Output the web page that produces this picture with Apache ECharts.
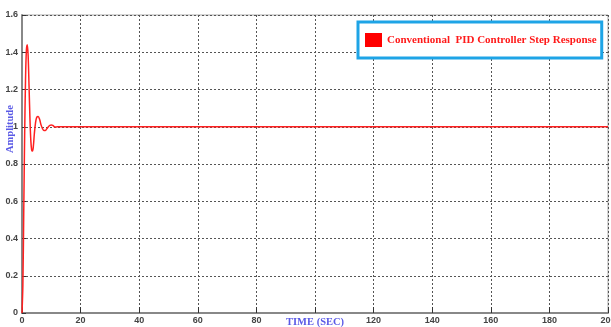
<!DOCTYPE html>
<html><head><meta charset="utf-8">
<script src="https://cdn.jsdelivr.net/npm/echarts@6/dist/echarts.min.js"></script>
<style>html,body{margin:0;padding:0;background:#fff}#c{width:611px;height:327px}</style>
</head><body><div id="c"></div>
<script>
var times = [0,0.3,0.6,0.9,1.2,1.5,1.8,2.1,2.4,2.7,3.0,3.3,3.6,3.9,4.2,4.6,5.0,5.5,6.0,6.5,7.0,7.5,8.0,8.5,9.0,9.5,10.0,10.5,11.0,11.5,12,200];
var amplitude = [0,0.15,0.55,0.95,1.25,1.41,1.44,1.38,1.22,1.05,0.93,0.875,0.87,0.9,0.96,1.02,1.05,1.055,1.04,1.01,0.99,0.98,0.98,0.99,1.0,1.008,1.01,1.008,1.0,0.998,1.0,1.0];
var hiddenXLabels = [100];
var seriesName = 'Conventional  PID Controller Step Response';
var xName = 'TIME (SEC)';
var yName = 'Amplitude';

var data = times.map(function(t,i){return [t, amplitude[i]];});
var chart = echarts.init(document.getElementById('c'), null, {renderer:'canvas'});
var labelStyle = {fontSize:9, color:'#444', fontWeight:'bold', fontFamily:'Liberation Sans, Arial'};
var gridLine = {show:true, lineStyle:{color:'#555', type:[2,2], width:1}};
chart.setOption({
  animation:false,
  backgroundColor:'#fff',
  grid:{left:22, right:3, top:15, bottom:14, show:true, borderColor:'#aaa', borderWidth:1, containLabel:false, outerBoundsMode:'none'},
  legend:{
    data:[{name:seriesName, icon:'rect'}],
    left:358, top:22,
    itemWidth:17, itemHeight:14, itemGap:8,
    padding:[11,5,11,7],
    borderColor:'#1ea4e6', borderWidth:3, backgroundColor:'#fff',
    textStyle:{color:'#ff1a1a', fontWeight:'bold', fontSize:11, fontFamily:'Liberation Serif, Times New Roman'}
  },
  xAxis:{type:'value', min:0, max:200, interval:20,
    axisLine:{lineStyle:{color:'#888', width:2}},
    axisTick:{inside:true, length:6, lineStyle:{color:'#333'}},
    axisLabel:Object.assign({margin:3, showMaxLabel:true, hideOverlap:false,
      formatter:function(v){return hiddenXLabels.indexOf(v)>=0 ? '' : String(v);}}, labelStyle),
    splitLine:gridLine},
  yAxis:{type:'value', min:0, max:1.6, interval:0.2,
    axisLine:{show:true, lineStyle:{color:'#888', width:2}},
    axisTick:{show:true, inside:true, length:4, lineStyle:{color:'#333'}},
    axisLabel:Object.assign({margin:4}, labelStyle),
    splitLine:gridLine},
  graphic:[
    {type:'text', left:286, top:317, style:{text:xName, fill:'#5a5ae6', font:'bold 10.5px "Liberation Serif", "Times New Roman"'}},
    {type:'text', x:5, y:153, rotation:Math.PI/2, style:{text:yName, fill:'#5a5ae6', font:'bold 10.5px "Liberation Serif", "Times New Roman"', textVerticalAlign:'top'}}
  ],
  series:[{
    name:seriesName, type:'line', data:data, smooth:0.35, showSymbol:false,
    itemStyle:{color:'#ff0000'}, lineStyle:{color:'#ff2020', width:1.5}
  }]
});
</script>
</body></html>
